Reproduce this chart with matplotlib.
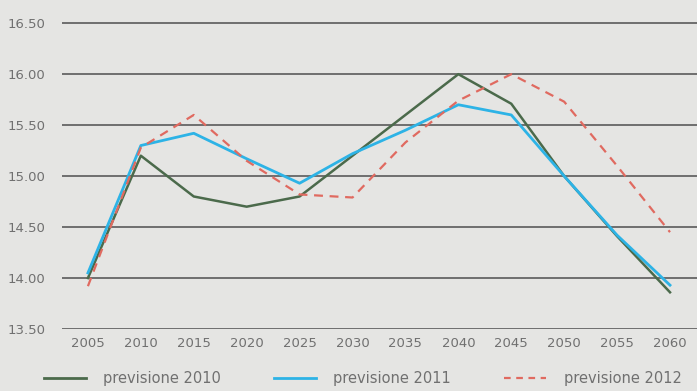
import matplotlib
matplotlib.use("Agg")
import matplotlib.pyplot as plt
from matplotlib.lines import Line2D

years = [2005, 2010, 2015, 2020, 2025, 2030, 2035, 2040, 2045, 2050, 2055, 2060]
prev_2010 = [14.00, 15.20, 14.80, 14.70, 14.80, 15.20, 15.60, 16.00, 15.71, 15.00, 14.41, 13.86]
prev_2011 = [14.05, 15.30, 15.42, 15.17, 14.93, 15.22, 15.45, 15.70, 15.60, 15.00, 14.42, 13.93]
prev_2012 = [13.92, 15.28, 15.60, 15.15, 14.82, 14.79, 15.33, 15.74, 16.00, 15.73, 15.10, 14.45]
yticks = [13.5, 14.0, 14.5, 15.0, 15.5, 16.0, 16.5]
ytick_labels = ["13.50", "14.00", "14.50", "15.00", "15.50", "16.00", "16.50"]
series_labels = ["previsione 2010", "previsione 2011", "previsione 2012"]

bg = "#e5e5e3"
txt = "#707070"
c_green = "#4b6a4b"
c_blue = "#2db3e6"
c_red = "#e06a60"

fig = plt.figure(figsize=(6.97, 3.91), dpi=100, facecolor=bg)
ax = fig.add_axes([62/697, 62/391, 635/697, 316/391], facecolor=bg)

ax.set_xlim(2002.55, 2062.55)
ax.set_ylim(13.5, 16.6)
ax.set_yticks(yticks)
ax.set_yticklabels(ytick_labels)
ax.set_xticks(years)
ax.set_xticklabels([str(y) for y in years])
for s in ax.spines.values():
    s.set_visible(False)
ax.tick_params(axis="both", length=0, colors=txt, labelsize=9.5)
ax.tick_params(axis="y", pad=12)
ax.tick_params(axis="x", pad=6)
for yv in yticks:
    ax.axhline(yv, color="#6e6e6e", lw=1.4, zorder=1)

ax.plot(years, prev_2010, color=c_green, lw=1.8, zorder=3)
ax.plot(years, prev_2011, color=c_blue, lw=2.0, zorder=4)
ax.plot(years, prev_2012, color=c_red, lw=1.6, ls=(0, (4, 3)), zorder=5)

handles = [
    Line2D([], [], color=c_green, lw=2),
    Line2D([], [], color=c_blue, lw=2),
    Line2D([], [], color=c_red, lw=1.6, ls=(0, (3, 2.5))),
]
leg = fig.legend(handles, series_labels, loc="lower center", bbox_to_anchor=(0.52, -0.02),
                 ncol=3, frameon=False, fontsize=10.5, handlelength=2.9,
                 columnspacing=3.6, handletextpad=1.2, labelcolor=txt)

fig.savefig("out.png", dpi=100, facecolor=bg)
